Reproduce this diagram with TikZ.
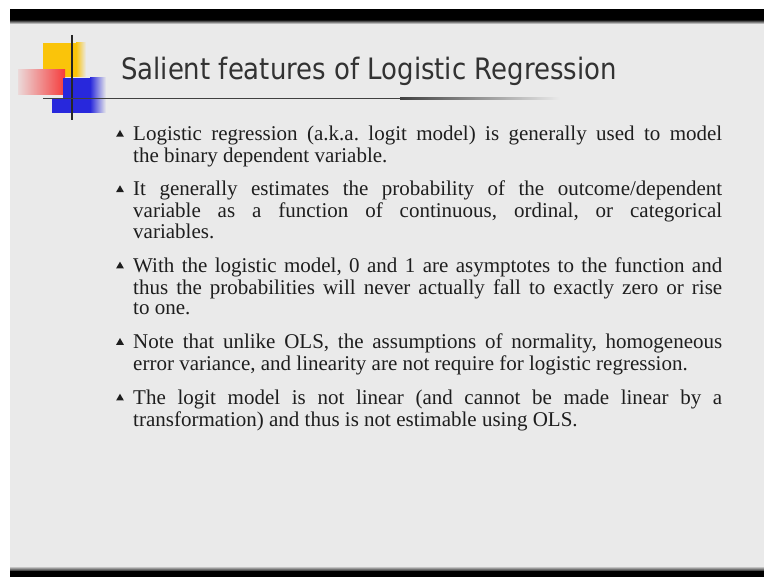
\documentclass[tikz,border=0pt]{standalone}
\usepackage{fontspec}
\setmainfont{Liberation Serif}
\newfontfamily\titlefont[FakeStretch=0.88]{DejaVu Sans}
\usetikzlibrary{positioning,shapes.geometric}

\begin{document}
\begin{tikzpicture}[x=1pt,y=-1pt,
    bodytext/.style={inner sep=0pt,text width=589pt,align=justify,text=textgray,
      font=\fontsize{21}{20.7}\selectfont,
      execute at begin node={\hyphenpenalty=10000\frenchspacing\strut},
      execute at end node=\strut},
    bulletmark/.style={regular polygon,regular polygon sides=3,fill=textgray,
      inner sep=0pt,minimum size=9pt}]

    \definecolor{slidegray}{RGB}{234,234,234}
    \definecolor{titlegray}{RGB}{50,50,50}
    \definecolor{textgray}{RGB}{30,30,30}
    \definecolor{logoyellow}{RGB}{250,196,10}
    \definecolor{logored}{RGB}{245,60,60}
    \definecolor{logoblue}{RGB}{40,40,220}

    \useasboundingbox (0,0) rectangle (764,577);
    \fill[white] (0,0) rectangle (764,577);
    \fill[slidegray] (10,21) rectangle (764,569);
    % black bars
    \fill[black] (10,9) rectangle (764,21);
    \shade[top color=black!70,bottom color=slidegray] (10,21) rectangle (764,24);
    \fill[black] (10,570) rectangle (764,577);
    \shade[top color=slidegray,bottom color=black!70] (10,566) rectangle (764,570);

    % logo
    \fill[logoyellow] (43,43) rectangle (76,77);
    \shade[left color=logoyellow,right color=slidegray] (76,43) rectangle (86,77);
    \shade[left color=logored!10!slidegray,right color=logored] (18,70) rectangle (65,95);
    \fill[logoblue] (63,78) rectangle (90,113);
    \fill[logoblue] (52,98) rectangle (63,113);
    \shade[left color=logoblue,right color=slidegray] (90,78) rectangle (106,113);
    \draw[line width=1.5pt,black!85] (72,35) -- (72,120);
    \fill[black!75] (43,97.6) rectangle (400,99.2);
    \shade[left color=black!75,right color=slidegray] (400,97.6) rectangle (560,99.2);

    \node(title) [anchor=base west,inner sep=0pt,text=titlegray,font=\titlefont\fontsize{29.5}{30}\selectfont] at (121,80) {Salient features of Logistic Regression};

    \node(p1) [bodytext,anchor=north west] at (133,125.5) {Logistic regression (a.k.a. logit model) is generally used to model\linebreak the binary dependent variable.};
    \node(p2) [bodytext,below=12.3pt of p1] {It generally estimates the probability of the outcome/dependent\linebreak variable as a function of continuous, ordinal, or categorical\linebreak variables.};
    \node(p3) [bodytext,below=12.3pt of p2] {With the logistic model, 0 and 1 are asymptotes to the function and\linebreak thus the probabilities will never actually fall to exactly zero or rise\linebreak to one.};
    \node(p4) [bodytext,below=12.3pt of p3] {Note that unlike OLS, the assumptions of normality, homogeneous\linebreak error variance, and linearity are not require for logistic regression.};
    \node(p5) [bodytext,below=12.3pt of p4] {The logit model is not linear (and cannot be made linear by a\linebreak transformation) and thus is not estimable using OLS.};

    \foreach \p in {1,...,5}
        \node(b\p) [bulletmark] at ([xshift=-13pt,yshift=-9pt]p\p.north west) {};

\end{tikzpicture}
\end{document}
